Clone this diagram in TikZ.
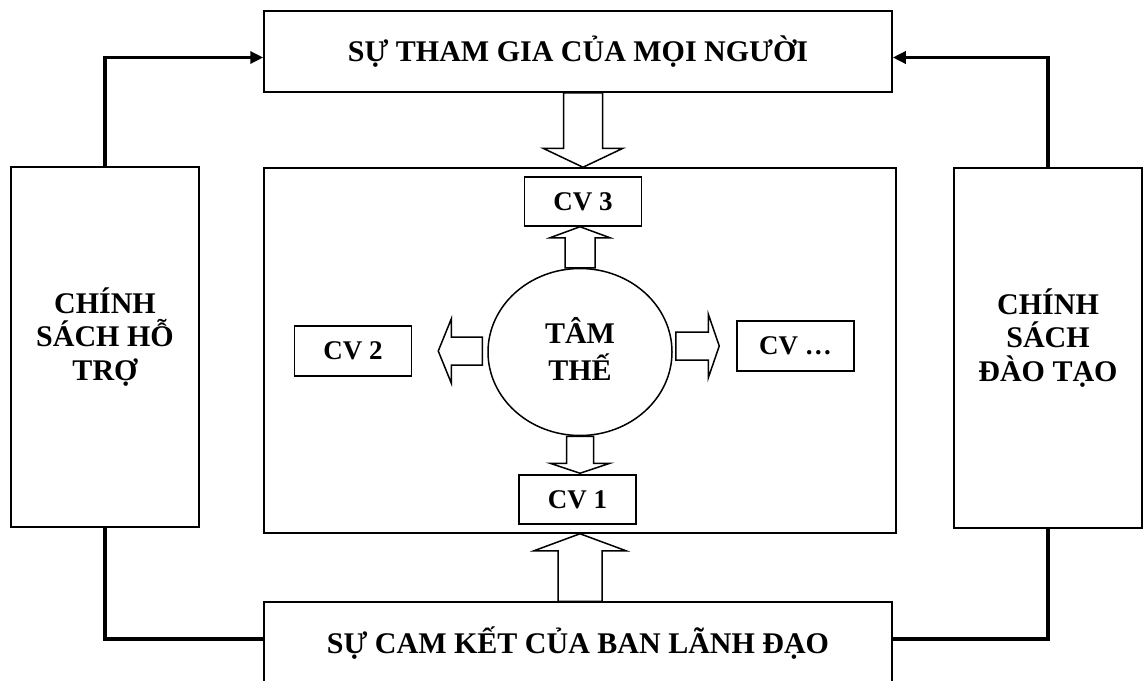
\documentclass[tikz,border=0pt]{standalone}
\usepackage{fontspec}
\setmainfont{Liberation Serif}
\usetikzlibrary{calc,arrows.meta,shapes.geometric}

\tikzset{
  box/.style={draw,line width=1.5pt,align=center,inner sep=0pt,font=\bfseries\fontsize{30}{33.5}\selectfont},
  boxtext/.style={align=center,inner sep=0pt,font=\bfseries\fontsize{30}{33.5}\selectfont},
  cvbox/.style={draw,line width=1.5pt,inner sep=0pt,minimum width=117pt,minimum height=49pt,font=\bfseries\fontsize{27}{30}\selectfont},
  link/.style={line width=3.8pt},
  hollow/.style={draw,line width=1.5pt,fill=white,line join=miter}
}
% block arrow: start, tip, half shaft, half head, head length
\newcommand{\blockarrow}[5]{%
  \coordinate (ba-s) at (#1); \coordinate (ba-t) at (#2);
  \coordinate (ba-b) at ($(ba-t)!#5!(ba-s)$);
  \draw[hollow] ($(ba-s)!#3!90:(ba-t)$) -- ($(ba-b)!#3!90:(ba-t)$) -- ($(ba-b)!#4!90:(ba-t)$) -- (ba-t)
    -- ($(ba-b)!#4!-90:(ba-t)$) -- ($(ba-b)!#3!-90:(ba-t)$) -- ($(ba-s)!#3!-90:(ba-t)$) -- cycle;
}

\begin{document}
\begin{tikzpicture}[x=1pt,y=-1pt]
  \useasboundingbox (0,0) rectangle (1143,680);
  \node[box,minimum width=628pt,minimum height=81pt] (thamgia) at (578,51.5) {SỰ THAM GIA CỦA MỌI NGƯỜI};
  \node[box,minimum width=628pt,minimum height=82pt] (camket) at (578,643) {SỰ CAM KẾT CỦA BAN LÃNH ĐẠO};
  \node[box,minimum width=188pt,minimum height=360pt] (hotro) at (105,347) {};
  \node[box,minimum width=188pt,minimum height=360pt] (daotao) at (1048,348) {};
  \node[boxtext] (hotrotext) at ([yshift=10pt]hotro.center) {CHÍNH\\SÁCH HỖ\\TRỢ};
  \node[boxtext] (daotaotext) at ([yshift=10pt]daotao.center) {CHÍNH\\SÁCH\\ĐÀO TẠO};
  \node[draw,line width=1.5pt,minimum width=632pt,minimum height=365pt] (khung) at (580,350.5) {};
  \node[draw,line width=1.5pt,ellipse,minimum width=184pt,minimum height=167pt] (tamthe) at (580,352) {};
  \node[boxtext,font=\bfseries\fontsize{30}{37}\selectfont] (tamthetext) at ([yshift=3pt]tamthe.center) {TÂM\\THẾ};
  \node[cvbox] (cv3) at (583,201.5) {CV 3};
  \node[cvbox] (cv1) at (577.5,499.5) {CV 1};
  \node[cvbox,minimum height=50pt] (cv2) at (353,351) {CV 2};
  \node[cvbox,minimum height=50pt] (cvn) at (795.5,346) {CV \dots};
  % hollow arrows
  \blockarrow{cv3.north |- thamgia.south}{cv3.north |- khung.north}{19.5pt}{40pt}{19pt}
  \blockarrow{tamthe.north}{tamthe.north |- cv3.south}{15pt}{30pt}{11pt}
  \blockarrow{tamthe.south}{$(tamthe.south |- cv1.north)+(0,-1)$}{13.5pt}{30pt}{10pt}
  \blockarrow{tamthe.south |- camket.north}{tamthe.south |- khung.south}{22pt}{46pt}{17pt}
  \blockarrow{$(tamthe.west |- cv2)+(-5,0)$}{$(cv2.east)+(26,0)$}{14pt}{32pt}{13pt}
  \blockarrow{$(tamthe.east |- cvn)+(3,0)$}{$(cvn.west)+(-17,0)$}{14pt}{32pt}{11pt}
  % links
  \draw[link,-{Triangle[length=13pt,width=12pt]}] (hotro.north) |- ([yshift=-6pt]thamgia.west);
  \draw[link,-{Triangle[length=13pt,width=12pt]}] (daotao.north) |- ([yshift=-6pt]thamgia.east);
  \draw[link] (hotro.south) |- ([yshift=4pt]camket.west);
  \draw[link] (daotao.south) |- ([yshift=4pt]camket.east);
\end{tikzpicture}
\end{document}
